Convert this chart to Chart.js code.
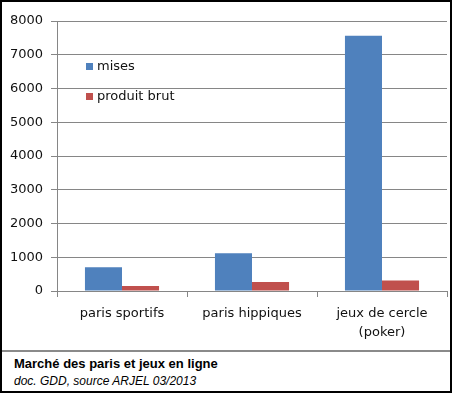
<!DOCTYPE html>
<html>
<head>
<meta charset="utf-8">
<script src="https://cdn.jsdelivr.net/npm/chart.js@4/dist/chart.umd.min.js"></script>
<style>
  html, body { margin: 0; padding: 0; background: #fff; }
  #frame { position: relative; width: 452px; height: 393px; box-sizing: border-box; border: 2px solid #000; overflow: hidden; }
  #wrap { position: absolute; left: -2px; top: -2px; width: 452px; height: 350px; }
  #sep { position: absolute; left: 0; right: 0; top: 348px; height: 0; border-top: 2px solid #8a8a8a; }
  .cap { position: absolute; left: 12px; font-family: "Liberation Sans", Arial, sans-serif; color: #000; white-space: nowrap; }
  #t1 { top: 354px; font-weight: bold; font-size: 13px; }
  #t2 { top: 372px; font-style: italic; font-size: 12px; }
</style>
</head>
<body>
<div id="frame">
  <div id="wrap"><canvas id="c" width="452" height="350"></canvas></div>
  <div id="sep"></div>
  <div class="cap" id="t1">Marché des paris et jeux en ligne</div>
  <div class="cap" id="t2">doc. GDD, source ARJEL 03/2013</div>
</div>
<script>
const categories = ["paris sportifs", "paris hippiques", ["jeux de cercle", "(poker)"]];
const seriesNames = ["mises", "produit brut"];
const mises = [705, 1120, 7560];
const produitBrut = [150, 270, 310];
const yTicks = [0, 1000, 2000, 3000, 4000, 5000, 6000, 7000, 8000];

const colors = ["#4F81BD", "#C0504D"];
const FONT = "'DejaVu Sans', sans-serif";

const innerLegend = {
  id: 'innerLegend',
  afterDraw(chart) {
    const ctx = chart.ctx;
    ctx.save();
    ctx.font = "13px " + FONT;
    ctx.textBaseline = 'middle';
    chart.data.datasets.forEach((ds, i) => {
      const y = 67 + i * 30;
      ctx.fillStyle = ds.backgroundColor;
      ctx.fillRect(86, y - 4, 7, 7);
      ctx.fillStyle = '#111';
      ctx.fillText(ds.label, 97, y);
    });
    ctx.restore();
  }
};

new Chart(document.getElementById('c'), {
  type: 'bar',
  data: {
    labels: categories,
    datasets: [
      { label: seriesNames[0], data: mises, backgroundColor: colors[0] },
      { label: seriesNames[1], data: produitBrut, backgroundColor: colors[1] }
    ]
  },
  options: {
    responsive: false,
    animation: false,
    devicePixelRatio: 1,
    layout: { padding: { top: 21, right: 5, left: 0, bottom: 0 } },
    datasets: { bar: { barPercentage: 1.0, categoryPercentage: 0.57 } },
    plugins: { legend: { display: false }, tooltip: { enabled: false } },
    scales: {
      x: {
        grid: { offset: true, drawOnChartArea: false, drawTicks: true, tickLength: 6, color: '#868686' },
        border: { display: true, color: '#868686', width: 1 },
        ticks: { font: { family: FONT, size: 13, lineHeight: 1.4 }, color: '#111', padding: 8, maxRotation: 0 },
        afterFit(scale) { scale.height = 59; }
      },
      y: {
        min: 0, max: 8000,
        afterBuildTicks(scale) { scale.ticks = yTicks.map(v => ({ value: v })); },
        grid: { color: '#868686', tickLength: 6, drawTicks: true },
        border: { display: true, color: '#868686', width: 1 },
        ticks: { font: { family: FONT, size: 13 }, color: '#111', padding: 8, callback: (v) => String(v) },
        afterFit(scale) { scale.width = 57; }
      }
    }
  },
  plugins: [innerLegend]
});
</script>
</body>
</html>
